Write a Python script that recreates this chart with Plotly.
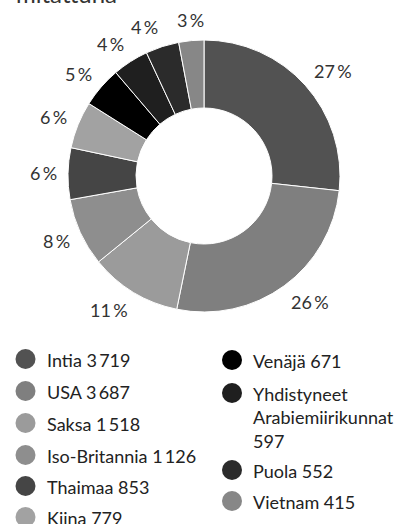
import math
import plotly.graph_objects as go

countries = ["Intia", "USA", "Saksa", "Iso-Britannia", "Thaimaa", "Kiina",
             "Venäjä", "Yhdistyneet Arabiemiirikunnat", "Puola", "Vietnam"]
values = [3719, 3687, 1518, 1126, 853, 779, 671, 597, 552, 415]
colors = ["#525252", "#7f7f7f", "#9b9b9b", "#8e8e8e", "#454545", "#a2a2a2",
          "#000000", "#1f1f1f", "#2b2b2b", "#878787"]
legend_labels = ["Intia 3\u2009719", "USA 3\u2009687", "Saksa 1\u2009518",
                 "Iso-Britannia 1\u2009126", "Thaimaa 853", "Kiina 779",
                 "Venäjä 671", "Yhdistyneet<br>Arabiemiirikunnat<br>597",
                 "Puola 552", "Vietnam 415"]
title_text = "mitattuna"

W, H = 406, 524
CX, CY, R = 204, 176, 136
FONT = "Lato, 'Open Sans', sans-serif"

def px(x):
    return x / W

def py(y):
    return 1 - y / H

fig = go.Figure()
fig.add_trace(go.Pie(
    labels=countries, values=values, sort=False, direction="clockwise",
    rotation=0, hole=0.5,
    marker=dict(colors=colors, line=dict(color="#ffffff", width=1)),
    textinfo="none", hoverinfo="label+value+percent", showlegend=False,
    domain=dict(x=[px(CX - R), px(CX + R)], y=[py(CY + R), py(CY - R)]),
))

annotations = []
total = sum(values)
cum = 0
for v in values:
    mid = (cum + v / 2) / total * 2 * math.pi
    cum += v
    p = round(v / total * 100)
    pct = f"{p}\u2009%"
    w = 10.4 * len(str(p)) + 17.5
    s, c = math.sin(mid), math.cos(mid)
    rp = R + 11
    bx = CX + rp * s
    by = CY - rp * c
    dx = math.copysign(w / 2, s) if abs(s) > 0.2 else 0
    dy = -math.copysign(9.5 * abs(c), c)
    annotations.append(dict(
        x=px(bx + dx), y=py(by + dy), xref="paper", yref="paper", text=pct,
        showarrow=False, xanchor="center", yanchor="middle",
        font=dict(family=FONT, size=18, color="#333333")))

# title (partly cut off at the top of the page)
annotations.append(dict(
    x=px(14), y=py(10), xref="paper", yref="paper", text=title_text,
    showarrow=False, xanchor="left", yanchor="bottom",
    font=dict(family=FONT, size=24, color="#333333")))

# legend
shapes = []
left_rows = [359, 391, 423, 455, 486, 517]
right_rows = [360, 393, 470, 501]
positions = [(25.5, y) for y in left_rows] + [(232, y) for y in right_rows]
for lab, col, (mx, my) in zip(legend_labels, colors, positions):
    rr = 10
    shapes.append(dict(type="circle", xref="paper", yref="paper",
                       x0=px(mx - rr), x1=px(mx + rr), y0=py(my + rr), y1=py(my - rr),
                       fillcolor=col, line=dict(width=0)))
    annotations.append(dict(
        x=px(mx + 19), y=py(my - 12), xref="paper", yref="paper", text=lab,
        showarrow=False, xanchor="left", yanchor="top", align="left",
        font=dict(family=FONT, size=18, color="#222222")))

fig.update_layout(
    width=W, height=H, margin=dict(l=0, r=0, t=0, b=0),
    paper_bgcolor="#ffffff", plot_bgcolor="#ffffff",
    annotations=annotations, shapes=shapes,
    font=dict(family=FONT),
)

fig.write_html(
    "out.html",
    config={"displayModeBar": False},
    post_script="document.body.style.margin='0';document.body.style.overflow='hidden';",
)
